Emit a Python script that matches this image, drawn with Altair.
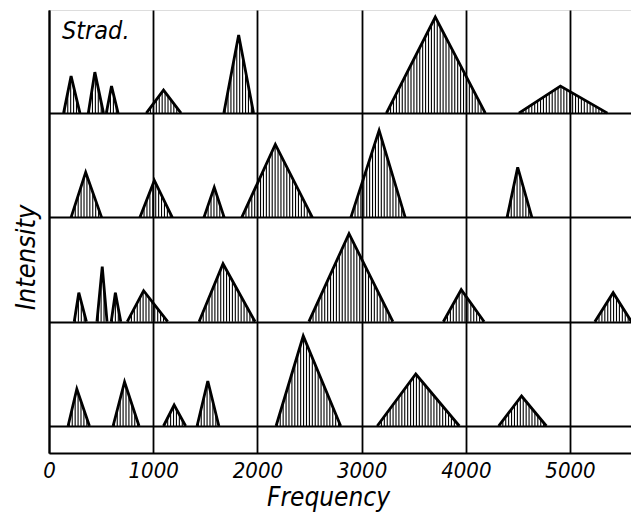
import altair as alt
import pandas as pd

# Peak data: row (1 = top "Strad."), foot-left, peak, foot-right frequency (Hz), peak intensity
row = [1]*7 + [2]*6 + [3]*8 + [4]*7
f_lo = [140, 377, 550, 934, 1678, 3238, 4509,
        212, 872, 1487, 1850, 2897, 4396,
        242, 460, 597, 751, 1440, 2494, 3784, 5238,
        183, 615, 1099, 1421, 2179, 3150, 4315]
f_pk = [212, 440, 600, 1099, 1820, 3707, 4908,
        352, 1011, 1586, 2172, 3168, 4498,
        286, 511, 637, 908, 1670, 2879, 3956, 5414,
        267, 725, 1201, 1524, 2440, 3520, 4535]
f_hi = [297, 523, 663, 1267, 1963, 4187, 5359,
        505, 1183, 1681, 2527, 3418, 4634,
        359, 557, 689, 1139, 1978, 3300, 4176, 5590,
        388, 864, 1311, 1630, 2799, 3938, 4773]
height = [37, 41, 27, 23, 78, 96, 27,
          45, 37, 30, 73, 87, 50,
          29, 55, 29, 31, 58, 88, 32, 29,
          37, 44, 21, 45, 90, 52, 30]

x_ticks = [0, 1000, 2000, 3000, 4000, 5000]

# layout constants
ROW_H = 104.3
BOTTOM = 27
Y_MAX = 443
X_MAX = 5662
FONT = "DejaVu Sans Condensed, DejaVu Sans"

peaks = pd.DataFrame({"row": row, "lo": f_lo, "pk": f_pk, "hi": f_hi, "h": height})
peaks["id"] = range(len(peaks))
peaks["base"] = BOTTOM + (4 - peaks["row"]) * ROW_H

outline = pd.concat([
    pd.DataFrame({"id": peaks["id"], "order": 0, "f": peaks["lo"], "y": peaks["base"]}),
    pd.DataFrame({"id": peaks["id"], "order": 1, "f": peaks["pk"], "y": peaks["base"] + peaks["h"]}),
    pd.DataFrame({"id": peaks["id"], "order": 2, "f": peaks["hi"], "y": peaks["base"]}),
])

xs = alt.Scale(domain=[0, X_MAX], nice=False, zero=False)
ys = alt.Scale(domain=[0, Y_MAX], nice=False, zero=False)
baselines = [BOTTOM + k * ROW_H for k in range(4)]

hatch = alt.Chart(peaks).transform_calculate(
    seq="sequence(datum.lo + 12, datum.hi - 6, 28)"
).transform_flatten(["seq"]).transform_calculate(
    hy="datum.seq < datum.pk ? datum.h * (datum.seq - datum.lo) / (datum.pk - datum.lo) : datum.h * (datum.hi - datum.seq) / (datum.hi - datum.pk)",
    top="datum.base + datum.hy"
).mark_rule(color="black", strokeWidth=1.1).encode(
    x=alt.X("seq:Q", scale=xs),
    y=alt.Y("base:Q", scale=ys),
    y2="top:Q",
)

lines = alt.Chart(outline).mark_line(color="black", strokeWidth=2.8, strokeJoin="miter").encode(
    x=alt.X("f:Q", scale=xs, title="Frequency",
            axis=alt.Axis(values=x_ticks, format="d", grid=True, gridColor="black", gridWidth=1.8,
                          gridOpacity=1, domainColor="black", domainWidth=2, ticks=False,
                          labelFont=FONT, labelFontSize=22, labelFontStyle="italic",
                          labelColor="black", labelPadding=7, labelFlush=False,
                          titleFont=FONT, titleFontSize=26, titleFontStyle="italic",
                          titleFontWeight="normal", titleColor="black", titlePadding=3,
                          titleX=279)),
    y=alt.Y("y:Q", scale=ys, title="Intensity",
            axis=alt.Axis(values=baselines, labels=False, ticks=False, grid=True,
                          gridColor="black", gridWidth=2, gridOpacity=1,
                          domainColor="black", domainWidth=2,
                          titleFont=FONT, titleFontSize=27, titleFontStyle="italic",
                          titleFontWeight="normal", titleColor="black",
                          titleX=-15, titleY=247, titleBaseline="alphabetic")),
    detail="id:N",
    order="order:Q",
)

label = alt.Chart(pd.DataFrame({"t": ["Strad."]})).mark_text(
    font=FONT, fontSize=25, fontStyle="italic", align="left", baseline="alphabetic", color="black"
).encode(x=alt.value(13), y=alt.value(29), text="t:N")

chart = alt.layer(hatch, lines, label).properties(
    width=590, height=Y_MAX,
    autosize=alt.AutoSizeParams(type="none"),
    padding={"left": 41, "top": 2, "right": -8, "bottom": 60},
).configure_view(stroke=None).configure(background="white")

chart.save("out.html", embed_options={"renderer": "svg", "actions": False})
